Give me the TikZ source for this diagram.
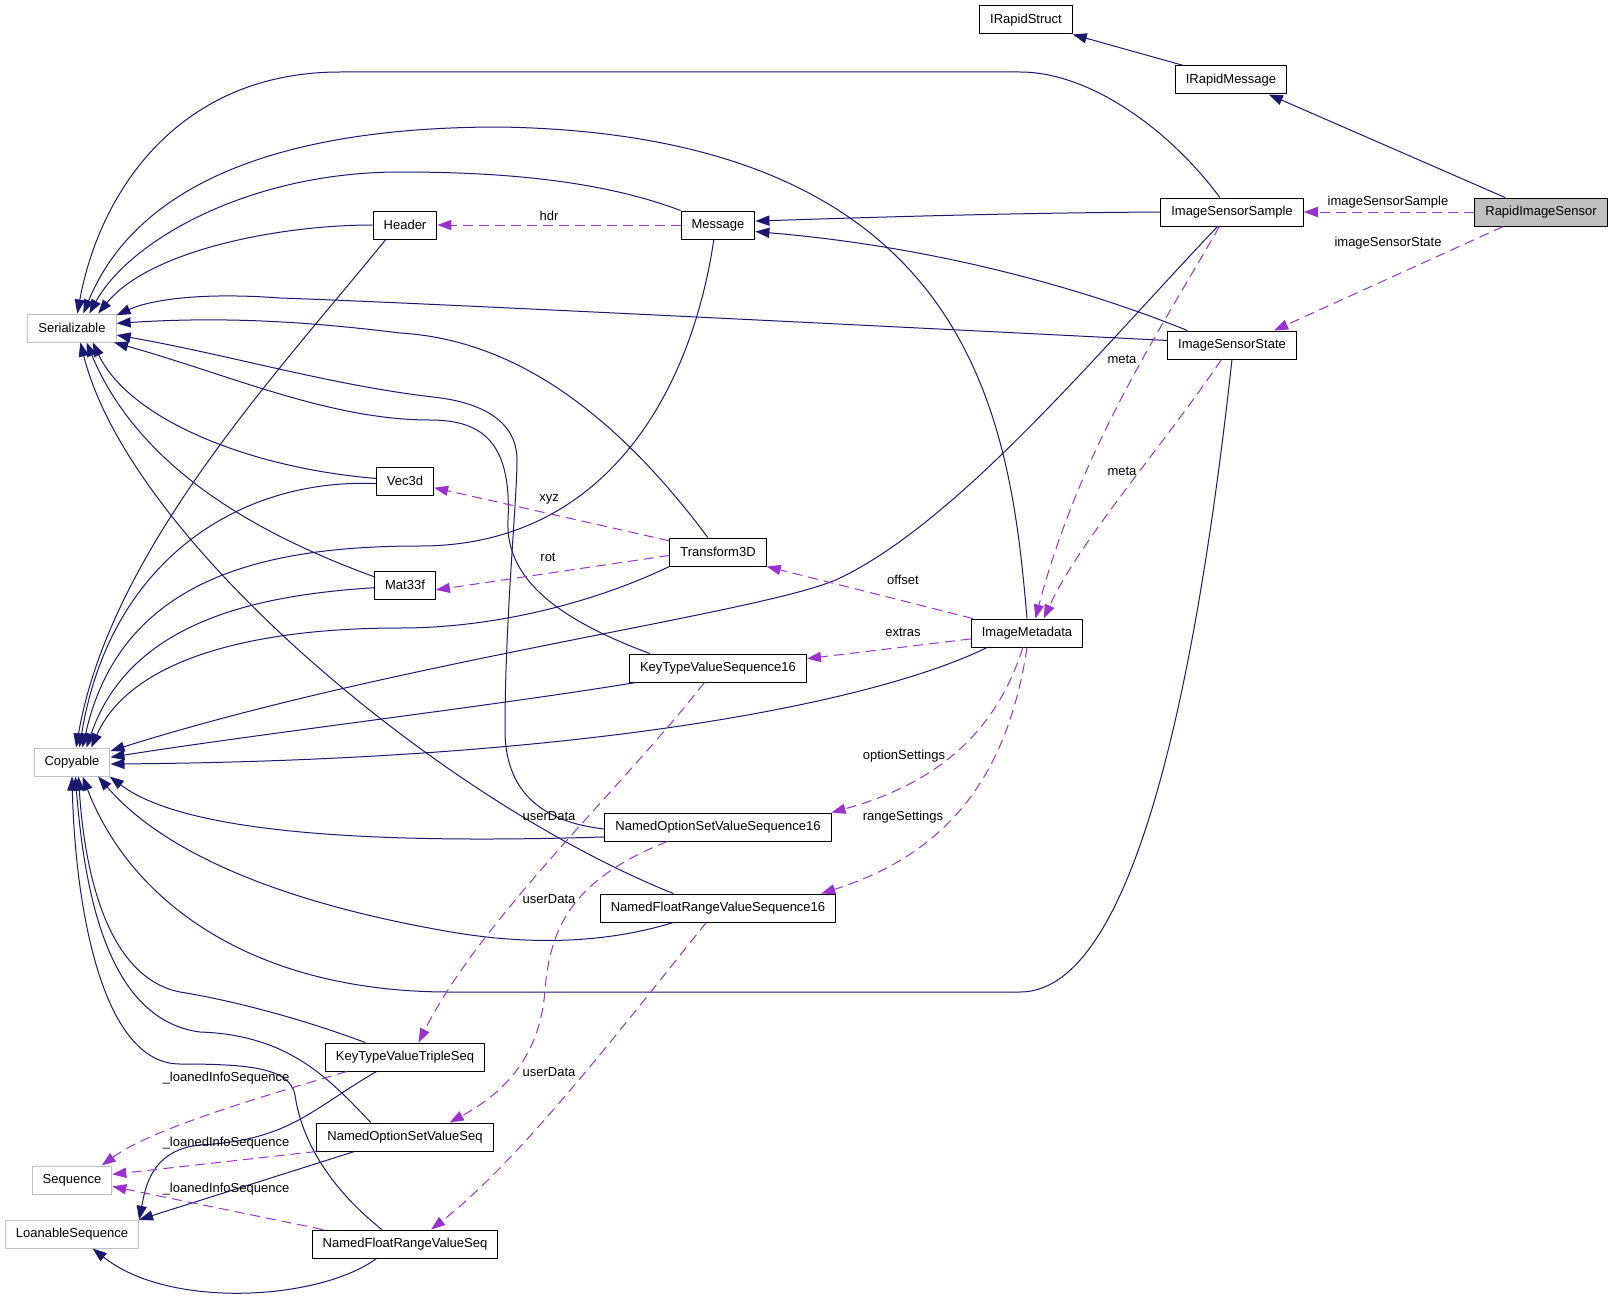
\documentclass[tikz,border=0pt]{standalone}
\usepackage{fontspec}
\setmainfont{Liberation Sans}
\usepackage{tikz}
\usetikzlibrary{arrows.meta}
\definecolor{edgenavy}{HTML}{191970}
\definecolor{edgeorchid}{HTML}{9A32CD}
\definecolor{boxgray}{HTML}{BFBFBF}
\tikzset{
  cls/.style={draw=black,fill=white,line width=0.75pt,inner xsep=7.9pt,inner ysep=0pt,minimum height=21pt},
  extcls/.style={cls,draw=boxgray},
  curcls/.style={cls,fill=boxgray},
  baseedge/.style={edgenavy,line width=0.75pt,-{Triangle[length=10.5pt,width=7.6pt]}},
  memberedge/.style={edgeorchid,line width=0.75pt,dash pattern=on 7.5pt off 4.5pt,-{Triangle[length=10.5pt,width=7.6pt]}},
  lbl/.style={inner sep=0pt}
}

\begin{document}
\begin{tikzpicture}[x=0.75pt,y=-0.75pt,font=\fontsize{9.75pt}{11pt}\selectfont]
  \fill[white] (0,0) rectangle (1613,1306);
  \useasboundingbox (0,0) rectangle (1613,1306);
  % classes outside the project
  \foreach \nm/\px/\py/\txt in {serial/72/328/Serializable, copy/72/762/Copyable,
    seqn/72/1180/Sequence, loan/72/1234/LoanableSequence}
    \node[extcls] (\nm) at (\px,\py) {\txt};
  % documented classes
  \foreach \nm/\px/\py/\txt in {
    header/405/225/Header, vec/405/481/Vec3d, mat/405/585/Mat33f,
    ktvts/405/1057/KeyTypeValueTripleSeq, nosvs/405/1137/NamedOptionSetValueSeq,
    nfrvs/405/1244/NamedFloatRangeValueSeq,
    msg/718/225/Message, tf/718/552/Transform3D, ktvs16/718/668/KeyTypeValueSequence16,
    nosvs16/718/827/NamedOptionSetValueSequence16, nfrvs16/718/908/NamedFloatRangeValueSequence16,
    meta/1027/633/ImageMetadata, irs/1026/20/IRapidStruct, irm/1231/80/IRapidMessage,
    iss/1232/212/ImageSensorSample, ist/1232/345/ImageSensorState}
    \node[cls] (\nm) at (\px,\py) {\txt};
  \node[curcls] (ris) at (1541,212) {RapidImageSensor};

  % base classes
  \draw[baseedge] (irm.163.4) -- (irs.south east);
  \draw[baseedge] (ris.158.2) -- (irm.-21.5);
  \draw[baseedge] (iss.west) .. controls (1000,213) and (850,218) .. (msg.6);
  \draw[baseedge] (ist.162.3) .. controls (1100,295) and (950,248) .. (msg.-10.4);

  % to Serializable
  \draw[baseedge] (iss.130.6) .. controls (1170,130) and (1090,72) .. (1020,72) -- (340,72)
    .. controls (180,72) and (100,190) .. (serial.70);
  \draw[baseedge] (meta.north) .. controls (1010,420) and (975,135) .. (500,127)
    .. controls (250,127) and (130,200) .. (serial.52);
  \draw[baseedge] (msg.north west) .. controls (600,180) and (500,172) .. (400,172)
    .. controls (250,172) and (130,240) .. (serial.40);
  \draw[baseedge] (header.west) .. controls (280,225) and (150,250) .. (serial.29);
  \draw[baseedge] (ist.176.5) .. controls (800,322) and (400,302) .. (280,298)
    .. controls (200,292) and (150,300) .. (serial.16);
  \draw[baseedge] (tf.125.5) .. controls (620,420) and (520,340) .. (400,333)
    .. controls (280,318) and (200,318) .. (serial.6);
  \draw[baseedge] (nosvs16.181.5) .. controls (540,822) and (505,790) .. (505,730)
    .. controls (505,620) and (517,500) .. (517,460) .. controls (517,420) and (480,402) .. (433,397)
    .. controls (330,385) and (230,355) .. (serial.-9);
  \draw[baseedge] (ktvs16.168.4) .. controls (560,620) and (505,580) .. (508,520)
    .. controls (512,440) and (480,420) .. (430,420) .. controls (330,420) and (230,375) .. (serial.-19);
  \draw[baseedge] (nfrvs16.162.7) .. controls (440,800) and (130,540) .. (serial.-60);
  \draw[baseedge] (mat.165.7) .. controls (260,535) and (140,470) .. (serial.-45);
  \draw[baseedge] (vec.175) .. controls (250,468) and (130,420) .. (serial.-35);

  % to Copyable
  \draw[baseedge] (header.217.9) .. controls (280,370) and (110,550) .. (copy.74);
  \draw[baseedge] (vec.185) .. controls (240,478) and (110,560) .. (copy.63.4);
  \draw[baseedge] (msg.254) .. controls (690,400) and (600,546) .. (420,546)
    .. controls (260,546) and (120,580) .. (copy.54.5);
  \draw[baseedge] (mat.185.4) .. controls (260,595) and (130,620) .. (copy.45);
  \draw[baseedge] (tf.south west) .. controls (600,600) and (500,628) .. (400,628)
    .. controls (250,628) and (130,660) .. (copy.37.9);
  \draw[baseedge] (iss.225) .. controls (1100,350) and (960,520) .. (840,578)
    .. controls (770,612) and (400,660) .. (copy.16);
  \draw[baseedge] (ktvs16.190.6) .. controls (500,705) and (250,735) .. (copy.7.4);
  \draw[baseedge] (meta.200.7) .. controls (880,700) and (600,760) .. (copy.-3);
  \draw[baseedge] (nosvs16.185.5) .. controls (350,845) and (180,830) .. (copy.-21.8);
  \draw[baseedge] (nfrvs16.198.9) .. controls (600,945) and (520,945) .. (440,930)
    .. controls (300,905) and (170,860) .. (copy.-29.2);
  \draw[baseedge] (ist.south) .. controls (1200,650) and (1140,992) .. (1020,992) -- (450,992)
    .. controls (250,992) and (130,900) .. (copy.-54.5);
  \draw[baseedge] (ktvts.160.7) .. controls (300,1018) and (230,1000) .. (180,992)
    .. controls (110,978) and (85,880) .. (copy.-66.8);
  \draw[baseedge] (nosvs.157) .. controls (330,1080) and (290,1035) .. (200,1032)
    .. controls (110,1020) and (85,900) .. (copy.-77.9);
  \draw[baseedge] (nfrvs.148.7) .. controls (320,1180) and (300,1130) .. (295,1095)
    .. controls (290,1068) and (250,1064) .. (180,1064) .. controls (100,1064) and (75,900) .. (copy.south);

  % to LoanableSequence
  \draw[baseedge] (ktvts.207.4) .. controls (310,1110) and (290,1140) .. (200,1145)
    .. controls (150,1150) and (145,1190) .. (loan.12.9);
  \draw[baseedge] (nosvs.196.3) -- (loan.12.9);
  \draw[baseedge] (nfrvs.207.4) .. controls (320,1300) and (170,1310) .. (loan.-35);

  % members
  \foreach \a/\b in {ris.west/iss.east, ris.201.8/ist.19.3, msg.west/header.east,
    tf.167.5/vec.-13.6, tf.184.6/mat.-9, meta.165.2/tf.south east, meta.186.1/ktvs16.6.4,
    nosvs.south west/seqn.8.5, nfrvs.170.4/seqn.-9.9}
    \draw[memberedge] (\a) -- (\b);
  \draw[memberedge] (iss.229.4) .. controls (1160,330) and (1080,450) .. (meta.60.3);
  \draw[memberedge] (ist.234.5) .. controls (1160,450) and (1080,540) .. (meta.41.2);
  \draw[memberedge] (meta.254) .. controls (1000,720) and (950,780) .. (nosvs16.north east);
  \draw[memberedge] (meta.south) .. controls (1010,760) and (960,850) .. (nfrvs16.8.5);
  \draw[memberedge] (ktvs16.227.1) .. controls (620,790) and (480,920) .. (ktvts.47.1);
  \draw[memberedge] (nosvs16.196.3) .. controls (570,880) and (550,930) .. (545,990)
    .. controls (540,1060) and (500,1095) .. (nosvs.18.4);
  \draw[memberedge] (nfrvs16.231.8) .. controls (620,1030) and (520,1160) .. (nfrvs.29.2);
  \draw[memberedge] (ktvts.194.3) .. controls (250,1100) and (150,1130) .. (seqn.26.6);

  % member names
  \foreach \lx/\ly/\lt [count=\i] in {1388/202/imageSensorSample, 1388/243/imageSensorState,
    549/216/hdr, 1122/359/meta, 1122/471/meta, 549/499/xyz, 548/557/rot,
    903/580/offset, 903/632/extras, 904/756/optionSettings, 903/817/rangeSettings,
    549/816/userData, 549/899/userData, 549/1072/userData,
    226/1078/\_loanedInfoSequence, 226/1143/\_loanedInfoSequence, 226/1189/\_loanedInfoSequence}
    \node[lbl] (lab\i) at (\lx,\ly) {\lt};
\end{tikzpicture}
\end{document}
